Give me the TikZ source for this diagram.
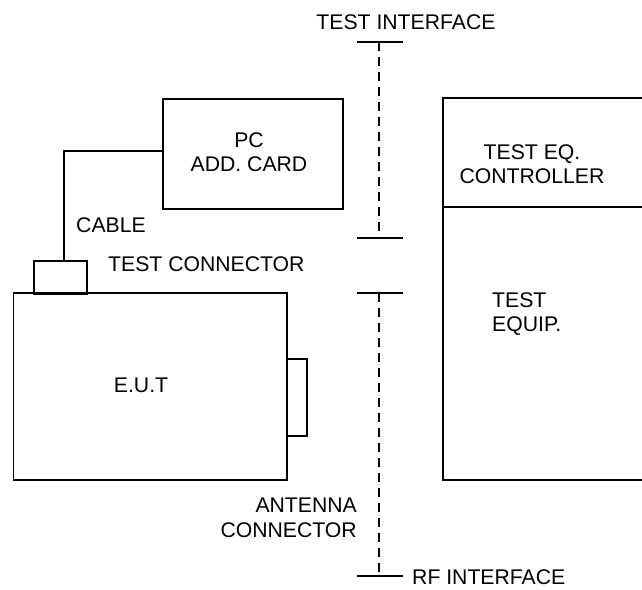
\documentclass[tikz,border=0pt]{standalone}
\usepackage{fontspec}
\setmainfont{Liberation Sans}
\begin{document}
\begin{tikzpicture}[x=1pt,y=-1pt,
  every node/.style={font=\fontsize{21.2}{24.5}\selectfont, inner sep=0pt},
  box/.style={draw, line width=1.5pt, rectangle},
  lbl/.style={align=center},
  iface/.style={line width=1.5pt, dash pattern=on 9pt off 6pt},
  tick/.style={line width=1.5pt}]
\useasboundingbox (0,0) rectangle (642,589);

% equipment blocks
\node[box, minimum width=180pt, minimum height=110pt] (pc) at (253,154) {};
\node[lbl] (pctext) at (249,152) {PC\\ADD. CARD};

\node[box, minimum width=273.5pt, minimum height=187pt] (eut) at (150.25,386.5) {};
\node (euttext) at (141,385) {E.U.T};

\node[box, minimum width=53pt, minimum height=33pt] (tconn) at (60.5,277.5) {};
\node[box, minimum width=20pt, minimum height=77pt] (aconn) at (297,397.5) {};

\node[box, minimum width=202pt, minimum height=109pt] (ctrl) at (544,152.5) {};
\node[lbl] (ctrltext) at (532,164) {TEST EQ.\\CONTROLLER};
\node[box, minimum width=202pt, minimum height=273pt] (equip) at (544,343.5) {};
\node[align=left, anchor=west] (equiptext) at (492,314) {TEST\\EQUIP.};

% cable from the PC card to the test connector
\coordinate (cablein) at (163,151);
\coordinate (cableout) at (64,261);
\draw[line width=1.5pt] (cablein) -| (cableout);

% test interface
\coordinate (tiA) at (379,42);
\coordinate (tiB) at (379,238);
\draw[iface] (tiA) -- (tiB);
\draw[tick] ([xshift=-22pt]tiA) -- ([xshift=24pt]tiA);
\draw[tick] ([xshift=-22pt]tiB) -- ([xshift=24pt]tiB);

% RF interface
\coordinate (rfA) at (379,293);
\coordinate (rfB) at (379,576);
\draw[iface] (rfA) -- (rfB);
\draw[tick] ([xshift=-22pt]rfA) -- ([xshift=24pt]rfA);
\draw[tick] ([xshift=-22pt]rfB) -- ([xshift=24pt]rfB);

% labels
\node (ti) at (406,22) {TEST INTERFACE};
\node[anchor=west] (cable) at (76,225) {CABLE};
\node[anchor=west] (tcl) at (108,264) {TEST CONNECTOR};
\node[align=right, anchor=east] (acl) at (357,518) {ANTENNA\\CONNECTOR};
\node[anchor=west] (rf) at (412,577) {RF INTERFACE};
\end{tikzpicture}
\end{document}
